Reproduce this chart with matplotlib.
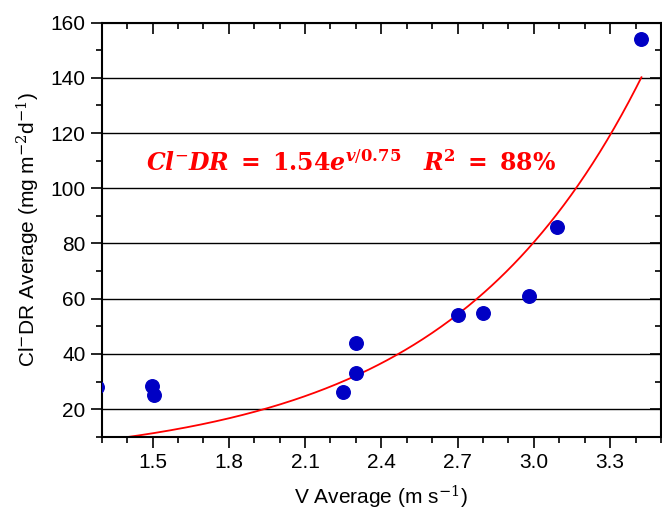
import numpy as np
import matplotlib
matplotlib.use("Agg")
from matplotlib import pyplot as plt
from matplotlib.ticker import MultipleLocator

# data
v_avg = [1.28, 1.497, 1.507, 2.248, 2.30, 2.30, 2.702, 2.798, 2.981, 3.092, 3.421]
cl_dr = [28.1, 28.4, 25.1, 26.3, 33.0, 43.8, 54.1, 54.7, 61.1, 86.1, 154.1]

# fitted exponential as drawn in the figure
fit_a = 1.57
fit_tau = 0.762
fit_v_start = 1.30
fit_v_end = 3.423

plt.rcParams['font.family'] = ['Liberation Sans', 'DejaVu Sans']
plt.rcParams['mathtext.fontset'] = 'dejavuserif'

fig = plt.figure(figsize=(6.62, 5.13), dpi=100)
ax = fig.add_axes([0.1536, 0.1487, 0.9985 - 0.1536, 0.9558 - 0.1487])

# grid lines at major y ticks
for yy in [20, 40, 60, 80, 100, 120, 140]:
    ax.axhline(yy, color='black', lw=1.0, zorder=1)

fv = np.linspace(fit_v_start, fit_v_end, 300)
ax.plot(fv, fit_a * np.exp(fv / fit_tau), color='red', lw=1.3, zorder=2)

ax.scatter(v_avg, cl_dr, s=95, color='#0000c4', zorder=3, clip_on=True)

ax.set_xlim(1.3, 3.5)
ax.set_ylim(10, 160)
ax.xaxis.set_minor_locator(MultipleLocator(0.1))
ax.yaxis.set_minor_locator(MultipleLocator(10))
ax.set_xticks([1.5, 1.8, 2.1, 2.4, 2.7, 3.0, 3.3])
ax.set_yticks([20, 40, 60, 80, 100, 120, 140, 160])

ax.tick_params(which='both', direction='out', labelsize=15, width=1.2, color='black')
ax.tick_params(which='major', length=8)
ax.tick_params(which='minor', length=4)

for s in ax.spines.values():
    s.set_linewidth(1.5)

# top and right ticks point inward
sec_x = ax.secondary_xaxis('top')
sec_x.set_xticks([1.5, 1.8, 2.1, 2.4, 2.7, 3.0, 3.3])
sec_x.xaxis.set_minor_locator(MultipleLocator(0.1))
sec_x.tick_params(which='both', direction='in', labeltop=False, width=1.2)
sec_x.tick_params(which='major', length=8)
sec_x.tick_params(which='minor', length=4)
sec_y = ax.secondary_yaxis('right')
sec_y.set_yticks([20, 40, 60, 80, 100, 120, 140, 160])
sec_y.yaxis.set_minor_locator(MultipleLocator(10))
sec_y.tick_params(which='both', direction='in', labelright=False, width=1.2)
sec_y.tick_params(which='major', length=8)
sec_y.tick_params(which='minor', length=4)

ax.set_xlabel(r'V Average (m s$^{-1}$)', fontsize=15, labelpad=9)
ax.set_ylabel(r'Cl$^{-}$DR Average (mg m$^{-2}$d$^{-1}$)', fontsize=15, labelpad=6)

ax.text(1.476, 109, r'$\mathbfit{Cl}^{-}\mathbfit{DR}\ \mathbf{=}\ \mathbf{1.54}\mathbfit{e}^{\mathbfit{v}/\mathbf{0.75}}\quad\mathbfit{R}^{\mathbf{2}}\ \mathbf{=}\ \mathbf{88\%}$',
        color='red', fontsize=17, va='center', ha='left', zorder=4)

fig.savefig('out.png', dpi=100)
